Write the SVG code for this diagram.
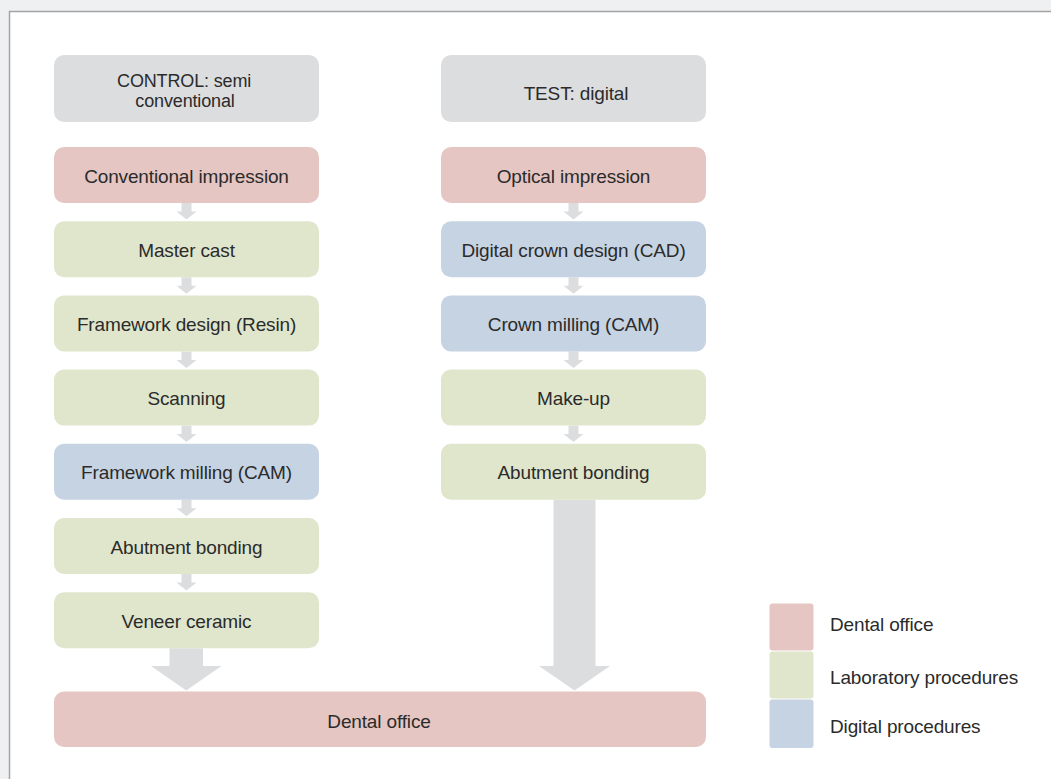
<svg xmlns="http://www.w3.org/2000/svg" width="1051" height="779" viewBox="0 0 1051 779">
  <style>
    .lbl { font-family: "Liberation Sans", Arial, sans-serif; font-size: 19px; fill: #2b2b2b; letter-spacing: -0.15px; }
    .mid { text-anchor: middle; }
    .head { fill: #dcdddf; }
    .office { fill: #e5c6c2; }
    .lab { fill: #dfe6cc; }
    .digi { fill: #c6d3e2; }
    .flow { fill: #dcdddf; }
  </style>

  <!-- page background and panel -->
  <rect x="0" y="0" width="1051" height="779" fill="#eff0f2"/>
  <rect x="9.5" y="11.5" width="1045" height="772" fill="#ffffff" stroke="#a3a3a3" stroke-width="1.5"/>

  <!-- connectors -->
  <g id="connectors" class="flow">
    <!-- left column small arrows -->
    <path d="M181.5 203 H191.5 V211.5 H196.5 L186.5 219.5 L176.5 211.5 H181.5 Z"/>
    <path d="M181.5 277.2 H191.5 V285.7 H196.5 L186.5 293.7 L176.5 285.7 H181.5 Z"/>
    <path d="M181.5 351.4 H191.5 V359.9 H196.5 L186.5 367.9 L176.5 359.9 H181.5 Z"/>
    <path d="M181.5 425.6 H191.5 V434.1 H196.5 L186.5 442.1 L176.5 434.1 H181.5 Z"/>
    <path d="M181.5 499.8 H191.5 V508.3 H196.5 L186.5 516.3 L176.5 508.3 H181.5 Z"/>
    <path d="M181.5 574 H191.5 V582.5 H196.5 L186.5 590.5 L176.5 582.5 H181.5 Z"/>
    <!-- right column small arrows -->
    <path d="M568.5 203 H578.5 V211.5 H583.5 L573.5 219.5 L563.5 211.5 H568.5 Z"/>
    <path d="M568.5 277.2 H578.5 V285.7 H583.5 L573.5 293.7 L563.5 285.7 H568.5 Z"/>
    <path d="M568.5 351.4 H578.5 V359.9 H583.5 L573.5 367.9 L563.5 359.9 H568.5 Z"/>
    <path d="M568.5 425.6 H578.5 V434.1 H583.5 L573.5 442.1 L563.5 434.1 H568.5 Z"/>
    <!-- large arrows into the final step -->
    <path d="M169.5 648.2 H203 V666 H221.5 L186.2 690.5 L151 666 H169.5 Z"/>
    <path d="M553.5 499.8 H595.5 V666 H610 L574.5 690.5 L539 666 H553.5 Z"/>
  </g>

  <!-- control branch -->
  <g id="control-header">
    <rect class="head" x="54" y="55" width="265" height="67" rx="10"/>
    <text class="lbl mid" style="font-size:18px">
      <tspan x="186.5" y="86.5">CONTROL: semi</tspan>
      <tspan x="185" y="106.5">conventional</tspan>
    </text>
  </g>
  <g id="conventional-impression">
    <rect class="office" x="54" y="147" width="265" height="56" rx="10"/>
    <text class="lbl mid" x="186.5" y="182.5">Conventional impression</text>
  </g>
  <g id="master-cast">
    <rect class="lab" x="54" y="221.2" width="265" height="56" rx="10"/>
    <text class="lbl mid" x="186.5" y="256.7">Master cast</text>
  </g>
  <g id="framework-design">
    <rect class="lab" x="54" y="295.4" width="265" height="56" rx="10"/>
    <text class="lbl mid" x="186.5" y="330.9">Framework design (Resin)</text>
  </g>
  <g id="scanning">
    <rect class="lab" x="54" y="369.6" width="265" height="56" rx="10"/>
    <text class="lbl mid" x="186.5" y="405.1">Scanning</text>
  </g>
  <g id="framework-milling">
    <rect class="digi" x="54" y="443.8" width="265" height="56" rx="10"/>
    <text class="lbl mid" x="186.5" y="479.3">Framework milling (CAM)</text>
  </g>
  <g id="abutment-bonding-control">
    <rect class="lab" x="54" y="518" width="265" height="56" rx="10"/>
    <text class="lbl mid" x="186.5" y="553.5">Abutment bonding</text>
  </g>
  <g id="veneer-ceramic">
    <rect class="lab" x="54" y="592.2" width="265" height="56" rx="10"/>
    <text class="lbl mid" x="186.5" y="627.7">Veneer ceramic</text>
  </g>

  <!-- test branch -->
  <g id="test-header">
    <rect class="head" x="441" y="55" width="265" height="67" rx="10"/>
    <text class="lbl mid" x="576" y="99.5">TEST: digital</text>
  </g>
  <g id="optical-impression">
    <rect class="office" x="441" y="147" width="265" height="56" rx="10"/>
    <text class="lbl mid" x="573.5" y="182.5">Optical impression</text>
  </g>
  <g id="digital-crown-design">
    <rect class="digi" x="441" y="221.2" width="265" height="56" rx="10"/>
    <text class="lbl mid" x="573.5" y="256.7">Digital crown design (CAD)</text>
  </g>
  <g id="crown-milling">
    <rect class="digi" x="441" y="295.4" width="265" height="56" rx="10"/>
    <text class="lbl mid" x="573.5" y="330.9">Crown milling (CAM)</text>
  </g>
  <g id="make-up">
    <rect class="lab" x="441" y="369.6" width="265" height="56" rx="10"/>
    <text class="lbl mid" x="573.5" y="405.1">Make-up</text>
  </g>
  <g id="abutment-bonding-test">
    <rect class="lab" x="441" y="443.8" width="265" height="56" rx="10"/>
    <text class="lbl mid" x="573.5" y="479.3">Abutment bonding</text>
  </g>

  <!-- shared final step -->
  <g id="dental-office">
    <rect class="office" x="54" y="691.5" width="652" height="55.5" rx="10"/>
    <text class="lbl mid" x="379" y="728">Dental office</text>
  </g>

  <!-- legend -->
  <g id="legend">
    <rect class="office" x="769.5" y="603.5" width="44" height="47" rx="3"/>
    <rect class="lab" x="769.5" y="651.5" width="44" height="47" rx="3"/>
    <rect class="digi" x="769.5" y="699.5" width="44" height="48.5" rx="3"/>
    <text class="lbl" x="830" y="631">Dental office</text>
    <text class="lbl" x="830" y="683.5">Laboratory procedures</text>
    <text class="lbl" x="830" y="732.5">Digital procedures</text>
  </g>
</svg>
